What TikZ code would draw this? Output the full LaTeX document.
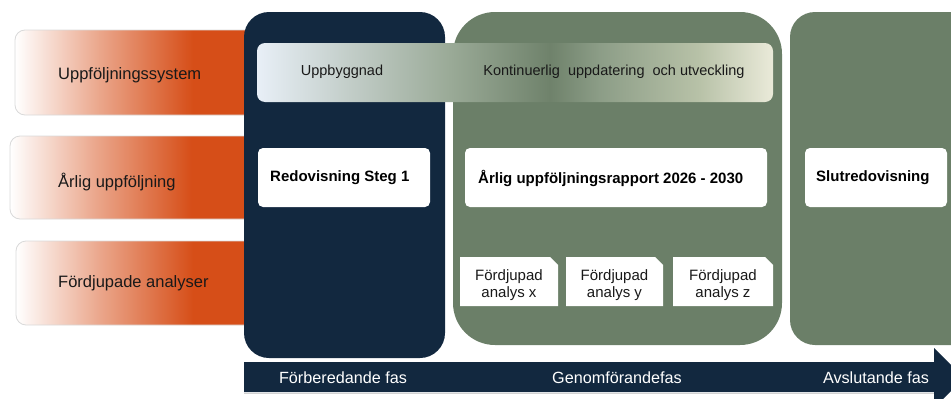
\documentclass[tikz,border=0pt]{standalone}
\usepackage{fontspec}
\setmainfont{Liberation Sans}
\definecolor{navy}{HTML}{12283F}
\definecolor{sage}{HTML}{6B7F68}
\definecolor{orng}{HTML}{D64E18}
\definecolor{bA}{HTML}{E8EFF7}
\definecolor{bB}{HTML}{C2CDC8}
\definecolor{bC}{HTML}{9AAA97}
\definecolor{bD}{HTML}{6F826B}
\definecolor{bE}{HTML}{8C9D87}
\definecolor{bF}{HTML}{B8C2A8}
\definecolor{bG}{HTML}{EAEAD9}
\pgfdeclarehorizontalshading{orangefade}{100bp}{color(0bp)=(white); color(25bp)=(white); color(42bp)=(orng!50); color(61bp)=(orng); color(100bp)=(orng)}
\pgfdeclarehorizontalshading{barfade}{100bp}{color(0bp)=(bA); color(25bp)=(bA); color(34bp)=(bB); color(43.7bp)=(bC); color(53.4bp)=(bD); color(58.2bp)=(bE); color(67.9bp)=(bF); color(75bp)=(bG); color(100bp)=(bG)}
\tikzset{
  rowlabel/.style={anchor=west, text=black!90, font=\fontsize{16.5}{19}\selectfont, inner sep=0},
  boxtitle/.style={anchor=west, text=black, font=\fontsize{15}{18}\selectfont\bfseries, inner sep=0},
  bartext/.style={text=black!90, font=\fontsize{14.5}{18}\selectfont, inner sep=0},
  phasetext/.style={text=white, font=\fontsize{16.2}{18}\selectfont, inner sep=0},
  smalltext/.style={text=black!90, font=\fontsize{15}{16.5}\selectfont, align=center, inner sep=0},
  rowbox/.style={shading=orangefade, draw=gray!30, line width=0.8, rounded corners=10},
}
\begin{document}
\begin{tikzpicture}[x=1pt,y=-1pt]
\useasboundingbox (0,0) rectangle (951,399);
\clip (0,0) rectangle (951,399);
% left rows
\shade[rowbox] (15,30) rectangle (262,115);
\shade[rowbox] (10,136) rectangle (262,219);
\shade[rowbox] (16,241) rectangle (262,325);
\node[rowlabel] (r1) at (58,75) {Uppföljningssystem};
\node[rowlabel] (r2) at (58,182) {Årlig uppföljning};
\node[rowlabel] (r3) at (58,283) {Fördjupade analyser};
% phase panels
\fill[navy, rounded corners=25] (244,12) rectangle (445,358);
\fill[sage, rounded corners=42] (453,12) rectangle (782,345);
\fill[sage, rounded corners=25] (790,12) rectangle (990,345);
% bar
\shade[shading=barfade, rounded corners=8] (257,43) rectangle (773,102);
\node[bartext] (b1) at (342,72) {Uppbyggnad};
\node[bartext] (b2) at (614,72) {Kontinuerlig\ \ uppdatering\ \ och utveckling};
% white boxes
\fill[white, rounded corners=5] (258,148) rectangle (430,207);
\fill[white, rounded corners=5] (465,148) rectangle (767,207);
\fill[white, rounded corners=5] (805,148) rectangle (947,207);
\node[boxtitle] (w1) at (270,178) {Redovisning Steg 1};
\node[boxtitle] (w2) at (478,178) {Årlig uppföljningsrapport 2026 - 2030};
\node[boxtitle] (w3) at (816,178) {Slutredovisning};
% small boxes
\fill[white] (460,257) -- (550,257) -- (558,265) -- (558,306) -- (460,306) -- cycle;
\fill[white] (566,257) -- (655,257) -- (663,265) -- (663,306) -- (566,306) -- cycle;
\fill[white] (673,257) -- (765,257) -- (773,265) -- (773,306) -- (673,306) -- cycle;
\node[smalltext] (s1) at (509,285) {Fördjupad\\analys x};
\node[smalltext] (s2) at (614.5,285) {Fördjupad\\analys y};
\node[smalltext] (s3) at (723,285) {Fördjupad\\analys z};
% arrow
\draw[gray!35, line width=1] (244,393) -- (935,393);
\fill[navy] (244,362) -- (934,362) -- (934,348) -- (964,378) -- (934,408) -- (934,392) -- (244,392) -- cycle;
\node[phasetext] (p1) at (343,378) {Förberedande fas};
\node[phasetext] (p2) at (617,378) {Genomförandefas};
\node[phasetext] (p3) at (876,378) {Avslutande fas};
\end{tikzpicture}
\end{document}
